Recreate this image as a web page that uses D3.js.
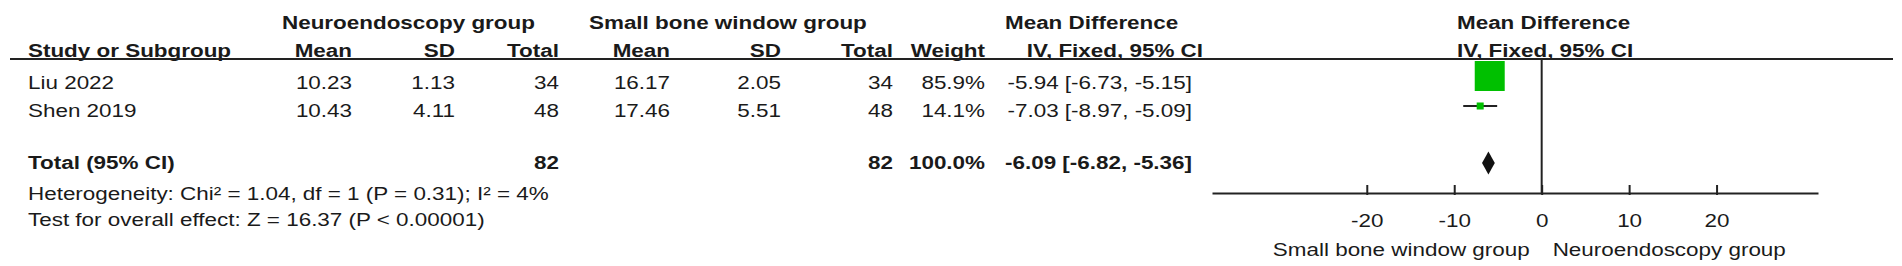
<!DOCTYPE html>
<html><head><meta charset="utf-8">
<script src="https://cdn.jsdelivr.net/npm/d3@7/dist/d3.min.js"></script>
<style>
html,body{margin:0;padding:0;background:#fff;}
svg{display:block;}
text{font-family:"Liberation Sans",Arial,sans-serif;fill:#1a1a1a;}
</style></head>
<body><svg id="c" width="1902" height="266"></svg>
<script>
// ---- data ----
const studies = ["Liu 2022", "Shen 2019"];
const neuroMean = [10.23, 10.43];
const neuroSD = [1.13, 4.11];
const neuroTotal = [34, 48];
const smallMean = [16.17, 17.46];
const smallSD = [2.05, 5.51];
const smallTotal = [34, 48];
const weights = [85.9, 14.1];
const md = [-5.94, -7.03];
const ciLow = [-6.73, -8.97];
const ciHigh = [-5.15, -5.09];
const totalLabel = "Total (95% CI)";
const totalNeuro = 82, totalSmall = 82, totalWeight = 100.0;
const totalMD = -6.09, totalLow = -6.82, totalHigh = -5.36;
const heterogeneity = "Heterogeneity: Chi² = 1.04, df = 1 (P = 0.31); I² = 4%";
const overallEffect = "Test for overall effect: Z = 16.37 (P < 0.00001)";
const tickValues = [-20, -10, 0, 10, 20];
const groupLeft = "Small bone window group";
const groupRight = "Neuroendoscopy group";

// ---- drawing ----
const svg = d3.select("#c");
const FS = 18.7, SX = 1.2;
const ink = "#1a1a1a";
const loc = d3.formatLocale({decimal: ".", thousands: ",", grouping: [3], currency: ["", ""], minus: "-"});
const f2 = loc.format(".2f"), f1 = loc.format(".1f"), fd = loc.format("d");
function txt(x, y, s, anchor, bold) {
  svg.append("text")
    .attr("transform", `translate(${x},${y}) scale(${SX},1)`)
    .attr("text-anchor", anchor || "start")
    .style("font-size", FS + "px")
    .style("font-weight", bold ? "bold" : "normal")
    .text(s);
}
const ciStr = (m, l, h) => `${f2(m)} [${f2(l)}, ${f2(h)}]`;

// columns (right edges)
const col = {nMean:352, nSD:455, nTot:559, sMean:670, sSD:781, sTot:893, w:985, md:1192};
const yH1 = 29, yH2 = 57, yLine = 59;
const rowY = [89, 117];
const yTotal = 169, yHet = 200, yTest = 226;

// headers
txt(282, yH1, "Neuroendoscopy group", "start", true);
txt(589, yH1, "Small bone window group", "start", true);
txt(1005, yH1, "Mean Difference", "start", true);
txt(1457, yH1, "Mean Difference", "start", true);
txt(28, yH2, "Study or Subgroup", "start", true);
txt(col.nMean, yH2, "Mean", "end", true);
txt(col.nSD, yH2, "SD", "end", true);
txt(col.nTot, yH2, "Total", "end", true);
txt(col.sMean, yH2, "Mean", "end", true);
txt(col.sSD, yH2, "SD", "end", true);
txt(col.sTot, yH2, "Total", "end", true);
txt(col.w, yH2, "Weight", "end", true);
txt(1203, yH2, "IV, Fixed, 95% CI", "end", true);
txt(1457, yH2, "IV, Fixed, 95% CI", "start", true);

svg.append("line").attr("x1", 10).attr("x2", 1893).attr("y1", yLine).attr("y2", yLine)
  .attr("stroke", "#222").attr("stroke-width", 2);

// study rows
studies.forEach((s, i) => {
  const y = rowY[i];
  txt(28, y, s, "start");
  txt(col.nMean, y, f2(neuroMean[i]), "end");
  txt(col.nSD, y, f2(neuroSD[i]), "end");
  txt(col.nTot, y, String(neuroTotal[i]), "end");
  txt(col.sMean, y, f2(smallMean[i]), "end");
  txt(col.sSD, y, f2(smallSD[i]), "end");
  txt(col.sTot, y, String(smallTotal[i]), "end");
  txt(col.w, y, f1(weights[i]) + "%", "end");
  txt(col.md, y, ciStr(md[i], ciLow[i], ciHigh[i]), "end");
});

// total row
txt(28, yTotal, totalLabel, "start", true);
txt(col.nTot, yTotal, String(totalNeuro), "end", true);
txt(col.sTot, yTotal, String(totalSmall), "end", true);
txt(col.w, yTotal, f1(totalWeight) + "%", "end", true);
txt(col.md, yTotal, ciStr(totalMD, totalLow, totalHigh), "end", true);
txt(28, yHet, heterogeneity, "start");
txt(28, yTest, overallEffect, "start");

// forest plot
const x = d3.scaleLinear().domain([-37.7, 31.6]).range([1212, 1818]);
const size = d3.scaleLinear().domain([0, 100]).range([2.5, 34.5]);
const yAxis = 193;
const markY = [76, 106];
const diamondY = 163;

// zero line
svg.append("line").attr("x1", x(0)).attr("x2", x(0)).attr("y1", yLine).attr("y2", yAxis)
  .attr("stroke", "#222").attr("stroke-width", 2);

const g = svg.append("g");
studies.forEach((s, i) => {
  g.append("line").attr("x1", x(ciLow[i])).attr("x2", x(ciHigh[i]))
    .attr("y1", markY[i]).attr("y2", markY[i]).attr("stroke", "#222").attr("stroke-width", 2);
  const sz = size(weights[i]);
  g.append("rect").attr("x", x(md[i]) - sz / 2).attr("y", markY[i] - sz / 2)
    .attr("width", sz).attr("height", sz).attr("fill", "#00c000");
});
const dh = 11.5;
g.append("path")
  .attr("d", `M${x(totalLow)},${diamondY}L${x(totalMD)},${diamondY - dh}L${x(totalHigh)},${diamondY}L${x(totalMD)},${diamondY + dh}Z`)
  .attr("fill", "#111");

// axis
const ax = svg.append("g").attr("transform", `translate(0,${yAxis})`)
  .call(d3.axisBottom(x).tickValues(tickValues).tickSizeInner(-8).tickSizeOuter(0).tickFormat(fd));
ax.select(".domain").attr("stroke", "#222").attr("stroke-width", 2);
ax.selectAll(".tick line").attr("stroke", "#222").attr("stroke-width", 2).attr("y2", -8).attr("y1", 2);
ax.selectAll(".tick text")
  .attr("y", 0).attr("dy", null)
  .attr("transform", `translate(0,34) scale(${SX},1)`)
  .attr("fill", ink)
  .style("font-size", FS + "px")
  .style("font-family", '"Liberation Sans",Arial,sans-serif');

txt(x(0) - 12, 256, groupLeft, "end");
txt(x(0) + 11, 256, groupRight, "start");
</script></body></html>
